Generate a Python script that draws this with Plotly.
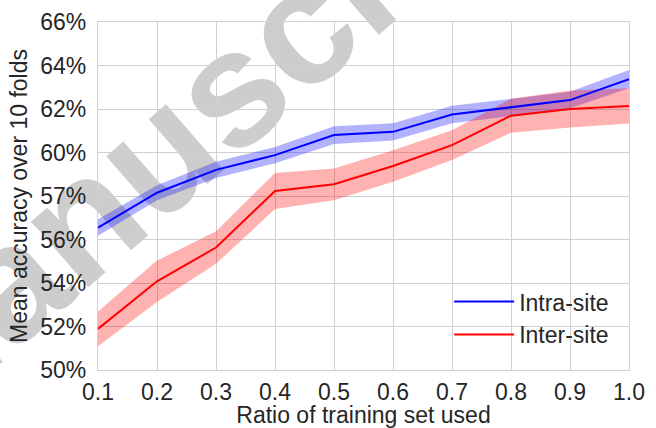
import plotly.graph_objects as go

ratios = [0.1, 0.2, 0.3, 0.4, 0.5, 0.6, 0.7, 0.8, 0.9, 1.0]
intra_mean = [56.55, 58.15, 59.2, 59.88, 60.8, 60.95, 61.75, 62.07, 62.41, 63.37]
intra_half = [0.38, 0.35, 0.37, 0.37, 0.41, 0.40, 0.40, 0.40, 0.38, 0.42]
inter_mean = [51.89, 54.08, 55.63, 58.23, 58.54, 59.38, 60.34, 61.69, 62.0, 62.14]
inter_half = [0.80, 0.95, 0.75, 0.83, 0.73, 0.72, 0.68, 0.78, 0.85, 0.81]

y_tickvals = [50, 52, 54, 56, 58, 60, 62, 64, 66]
y_ticktext = ["50%", "52%", "54%", "56%", "57%", "60%", "62%", "64%", "66%"]
x_tickvals = ratios
x_ticktext = ["0.1", "0.2", "0.3", "0.4", "0.5", "0.6", "0.7", "0.8", "0.9", "1.0"]

FONT = "Liberation Sans, Arial, sans-serif"
TXT = "#262626"

fig = go.Figure()


def band(mean, half, color):
    up = [m + h for m, h in zip(mean, half)]
    lo = [m - h for m, h in zip(mean, half)]
    return go.Scatter(
        x=ratios + ratios[::-1], y=up + lo[::-1], fill="toself",
        fillcolor=color, line=dict(width=0), mode="lines",
        showlegend=False, hoverinfo="skip")


fig.add_trace(band(intra_mean, intra_half, "rgba(0,0,255,0.3)"))
fig.add_trace(band(inter_mean, inter_half, "rgba(255,0,0,0.3)"))
fig.add_trace(go.Scatter(x=ratios, y=intra_mean, mode="lines", name="Intra-site",
                         line=dict(color="#0000ff", width=2)))
fig.add_trace(go.Scatter(x=ratios, y=inter_mean, mode="lines", name="Inter-site",
                         line=dict(color="#ff0000", width=2)))

# faint "manuscript" watermark behind the data
fig.add_shape(type="line", xref="paper", yref="paper",
              x0=0.132, y0=0.405, x1=0.432, y1=0.705, layer="between",
              line=dict(color="rgba(0,0,0,0)", width=0),
              label=dict(text="<b>manuscript</b>", textangle=-41,
                         textposition="middle",
                         font=dict(family=FONT, size=165, color="rgb(205,205,205)")))

fig.update_layout(
    width=656, height=428,
    margin=dict(l=98, r=27, t=22, b=58, autoexpand=False),
    paper_bgcolor="white", plot_bgcolor="white",
    font=dict(family=FONT, size=23, color=TXT),
    legend=dict(x=0.972, y=0.04, xanchor="right", yanchor="bottom",
                bgcolor="rgba(0,0,0,0)", font=dict(size=23, color=TXT),
                tracegroupgap=0, itemwidth=60),
    xaxis=dict(range=[0.1, 1.0], tickvals=x_tickvals, ticktext=x_ticktext,
               showgrid=True, gridcolor="#d0d0d0", gridwidth=1.2,
               showline=True, mirror=True, linecolor="#d0d0d0", linewidth=1.2,
               zeroline=False, ticks="", ticklabelstandoff=1, automargin=False,
               title=dict(text="Ratio of training set used", standoff=4,
                          font=dict(size=23, color=TXT))),
    yaxis=dict(range=[50, 66], tickvals=y_tickvals, ticktext=y_ticktext,
               showgrid=True, gridcolor="#d0d0d0", gridwidth=1.2,
               showline=True, mirror=True, linecolor="#d0d0d0", linewidth=1.2,
               zeroline=False, ticks="", ticklabelstandoff=6, automargin=False,
               title=dict(text="Mean accuracy over 10 folds", standoff=6,
                          font=dict(size=23, color=TXT))),
)

fig.write_html("out.html", config={"displayModeBar": False},
               post_script="document.body.style.margin='0';document.body.style.overflow='hidden';")
